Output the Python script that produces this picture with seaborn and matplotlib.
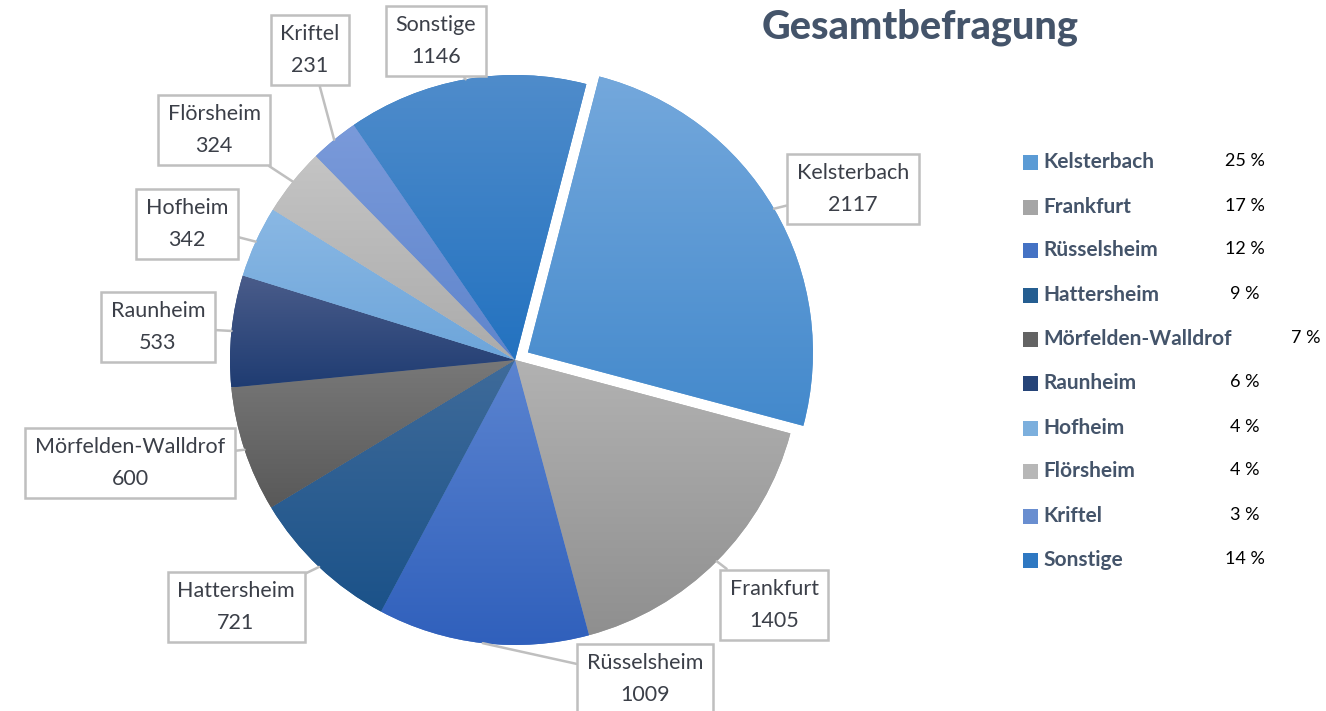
import numpy as np
import matplotlib
matplotlib.use("Agg")
import matplotlib.pyplot as plt
import seaborn as sns
from matplotlib.colors import LinearSegmentedColormap
from matplotlib.patches import Rectangle

# Daten
orte = ["Kelsterbach", "Frankfurt", "Rüsselsheim", "Hattersheim", "Mörfelden-Walldrof",
        "Raunheim", "Hofheim", "Flörsheim", "Kriftel", "Sonstige"]
anzahl = [2117, 1405, 1009, 721, 600, 533, 342, 324, 231, 1146]

# Farbverlauf je Segment (oben -> unten)
farbe_oben = ["#74A8DC", "#B2B2B2", "#5B84D0", "#3F6B9A", "#787878",
              "#4A5C8A", "#8AB8E4", "#C4C4C4", "#7A9ADA", "#4F8CCB"]
farbe_unten = ["#4389CC", "#8F8F8F", "#3060BC", "#1B5289", "#595959",
               "#1F3C72", "#6DA5DA", "#ABABAB", "#5F85CC", "#2372C0"]
farbe_legende = ["#5B9BD5", "#A5A5A5", "#4472C4", "#255E91", "#636363",
                 "#264478", "#7CAFDD", "#B7B7B7", "#698ED0", "#2E78C2"]

# Position der Beschriftungskästen (Pixel, y von oben)
label_pos = [(853, 189), (774, 605), (645, 679), (236, 607), (130, 463),
             (158, 327), (187, 224), (214, 130), (310, 50), (436, 41)]

W, H = 1326, 711
sns.set_theme(style="white")
plt.rcParams['font.family'] = ['Lato', 'DejaVu Sans']

fig = plt.figure(figsize=(W / 100, H / 100), dpi=100)
ax = fig.add_axes([0, 0, 1, 1])

cx, cy, r = 515, H - 360, 285
# explode wird in Dateneinheiten (= Pixel) verschoben
explode = [15] + [0] * (len(anzahl) - 1)
wedges, _ = ax.pie(anzahl, center=(cx, cy), radius=r, startangle=75.5,
                   counterclock=False, explode=explode,
                   colors=farbe_legende, wedgeprops=dict(linewidth=0))

# Verlauf über jedes Segment legen
grad = np.linspace(0, 1, 256).reshape(-1, 1)
for w, c1, c2 in zip(wedges, farbe_oben, farbe_unten):
    bb = w.get_path().get_extents()
    cmap = LinearSegmentedColormap.from_list("g", [c1, c2])
    im = ax.imshow(grad, cmap=cmap, extent=(bb.x0, bb.x1, bb.y0, bb.y1),
                   origin="upper", aspect="auto", interpolation="bicubic", zorder=2)
    im.set_clip_path(w)

# Beschriftungen mit Kästen
for w, name, n, (lx, ly) in zip(wedges, orte, anzahl, label_pos):
    ang = np.deg2rad((w.theta1 + w.theta2) / 2)
    px = w.center[0] + w.r * np.cos(ang)
    py = w.center[1] + w.r * np.sin(ang)
    ax.annotate(f"{name}\n{n}", xy=(px, py), xytext=(lx, H - ly),
                ha="center", va="center", fontsize=15.5, color="#3B3F48",
                linespacing=1.7, zorder=5,
                bbox=dict(boxstyle="square,pad=0.45", fc="white", ec="#BFBFBF", lw=1.8),
                arrowprops=dict(arrowstyle="-", color="#BFBFBF", lw=1.8,
                                shrinkA=0, shrinkB=0))

# Titel
ax.text(920, H - 27, "Gesamtbefragung", ha="center", va="center",
        fontsize=28.5, fontweight=900, color="#44546A")

# Legende mit Prozentwerten
gesamt = sum(anzahl)
zeilen_y = [162, 207, 250, 295, 339, 383, 428, 471, 516, 560]
for i, (name, n, col, y) in enumerate(zip(orte, anzahl, farbe_legende, zeilen_y)):
    ax.add_patch(Rectangle((1023, H - y - 8), 15, 15, fc=col, ec="none"))
    ax.text(1043, H - y, name, ha="left", va="center", fontsize=15,
            fontweight="bold", color="#44546A")
    px = 1306 if name == "Mörfelden-Walldrof" else 1245
    ax.text(px, H - y + 1, f"{round(n / gesamt * 100)} %", ha="center", va="center",
            fontsize=13, color="black")

ax.set_xlim(0, W)
ax.set_ylim(0, H)
ax.set_aspect("auto")
ax.axis("off")
fig.savefig("out.png", dpi=100)
